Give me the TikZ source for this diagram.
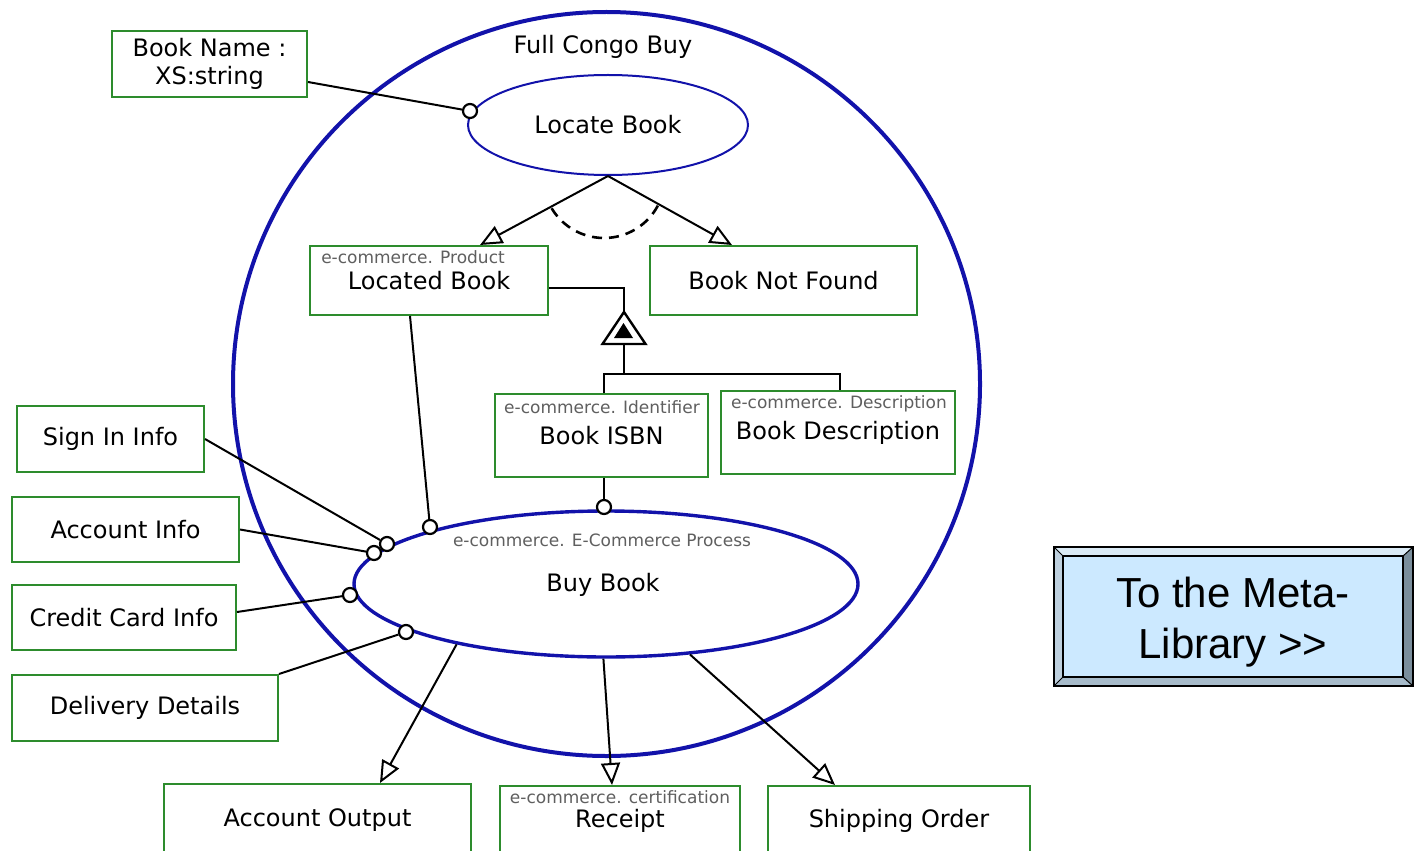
\documentclass[tikz,border=0pt]{standalone}
\usepackage{fontspec}
\setmainfont{DejaVu Sans}
\newfontfamily\arialf{Liberation Sans}
\usetikzlibrary{shapes.geometric,arrows.meta,calc}
\definecolor{navy}{RGB}{18,18,170}
\definecolor{boxgreen}{RGB}{45,140,45}
\definecolor{lbl}{RGB}{95,95,95}
\definecolor{face}{RGB}{204,233,255}
\definecolor{bvtop}{RGB}{218,234,245}
\definecolor{bvleft}{RGB}{190,208,222}
\definecolor{bvright}{RGB}{122,142,156}
\definecolor{bvbot}{RGB}{167,187,202}
\begin{document}
\begin{tikzpicture}[x=0.5pt,y=-0.5pt,
  box/.style={draw=boxgreen, line width=1pt, fill=white, inner sep=0pt, align=center,
    font=\fontsize{12}{14}\selectfont, text=black},
  small/.style={font=\fontsize{8.5}{10}\selectfont, text=lbl, inner sep=0pt},
  port/.style={circle, draw=black, fill=white, line width=1.1pt, minimum size=7pt, inner sep=0pt},
  conn/.style={draw=black, line width=1pt},
  flow/.style={conn, -{Triangle[open, length=11pt, width=9.5pt]}},
  proc/.style={ellipse, draw=navy, fill=white, inner sep=0pt, font=\fontsize{12}{14}\selectfont, text=black}
]
\useasboundingbox (0,0) rectangle (1416,850);

% outer process
\node[ellipse, draw=navy, line width=2pt, minimum width=373.5pt, minimum height=372pt, inner sep=0pt] (full) at (606.5,384) {};
\node[font=\fontsize{12}{14}\selectfont, text=black, inner sep=0pt] (fcb) at (603,47) {Full Congo Buy};

% sub processes
\node[proc, line width=1pt, minimum width=140pt, minimum height=50pt] (loc) at (608,125) {Locate Book};
\node[proc, line width=1.7pt, minimum width=252pt, minimum height=73pt] (buy) at (606,584) {};
\node[font=\fontsize{12}{14}\selectfont, text=black, inner sep=0pt] (buyt) at (603,585) {Buy Book};
\node[small] (buyl) at (602,540) {e-commerce. E-Commerce Process};

% boxes
\node[box, minimum width=97.5pt, minimum height=33pt] (bn) at (209.5,64) {Book Name :\\XS:string};
\node[box, minimum width=119pt, minimum height=34.5pt] (lb) at (429,280.5) {Located Book};
\node[small] (lbl) at (413,257) {e-commerce. Product};
\node[box, minimum width=133.5pt, minimum height=34.5pt] (bnf) at (783.5,280.5) {Book Not Found};
\node[box, minimum width=106.5pt, minimum height=41.5pt] (isbn) at (601.5,435.5) {Book ISBN};
\node[small] (isbnl) at (602,407) {e-commerce. Identifier};
\node[box, minimum width=117pt, minimum height=41.5pt] (bd) at (838,432.5) {Book Description};
\node[small] (bdl) at (839,404) {e-commerce. Description};
\node[box, minimum width=93.5pt, minimum height=33pt] (si) at (110.5,439) {Sign In Info};
\node[box, minimum width=113.5pt, minimum height=32.5pt] (ai) at (125.5,529.5) {Account Info};
\node[box, minimum width=112pt, minimum height=32.5pt] (cc) at (124,617.5) {Credit Card Info};
\node[box, minimum width=133pt, minimum height=33pt] (dd) at (145,708) {Delivery Details};
\node[box, minimum width=153.5pt, minimum height=36pt] (ao) at (317.5,820) {Account Output};
\node[box, minimum width=120pt, minimum height=35pt] (rc) at (620,821) {Receipt};
\node[small] (rcl) at (620,797) {e-commerce. certification};
\node[box, minimum width=131pt, minimum height=35pt] (so) at (899,821) {Shipping Order};

% ports
\node[port] (p0) at (470,111) {};
\node[port] (p1) at (604,507) {};
\node[port] (p2) at (430,527) {};
\node[port] (p3) at (387,544) {};
\node[port] (p4) at (374,553) {};
\node[port] (p5) at (350,595) {};
\node[port] (p6) at (406,632) {};

% connectors to ports
\draw[conn] ([yshift=-9pt]bn.east) -- (p0);
\draw[conn] ([xshift=1.25pt]isbn.south) -- (p1);
\draw[conn] ([xshift=-9.5pt]lb.south) -- (p2);
\draw[conn] (si.east) -- (p3);
\draw[conn] (ai.east) -- (p4);
\draw[conn] ([yshift=2.75pt]cc.east) -- (p5);
\draw[conn] (dd.north east) -- (p6);

% locate outcomes
\draw[flow] (loc.south) -- ([xshift=25.5pt]lb.north);
\draw[flow] (loc.south) -- ([xshift=-25.75pt]bnf.north);
\draw[line width=1.3pt, dash pattern=on 5pt off 3.5pt] plot[domain=28:152, samples=40] ({604+61*cos(\x)},{177+61*sin(\x)});

% generalisation
\coordinate (gtop) at (624,312);
\coordinate (gbase) at (624,344);
\draw[conn] ([yshift=-3.75pt]lb.east) -| (gtop);
\draw[line width=1.2pt, fill=white] (gtop) -- (645.5,344) -- (602.5,344) -- cycle;
\fill[black] (623.5,323) -- (633,338) -- (614,338) -- cycle;
\draw[conn] (gbase) -- ++(0,30) coordinate (gbar);
\draw[conn] ([xshift=1.25pt]isbn.north) |- (gbar) -| ([xshift=1pt]bd.north);

% outputs
\draw[flow] (buy.202) -- ([xshift=31.25pt]ao.north);
\draw[flow] (buy.268) -- ([xshift=-4pt]rc.north);
\draw[flow] (buy.320) -- ([xshift=-32pt]so.north);

% button
\coordinate (oTL) at (1054,547); \coordinate (oTR) at (1413,547);
\coordinate (oBR) at (1413,686); \coordinate (oBL) at (1054,686);
\coordinate (iTL) at (1063,556); \coordinate (iTR) at (1403,556);
\coordinate (iBR) at (1403,677); \coordinate (iBL) at (1063,677);
\fill[bvtop] (oTL) -- (oTR) -- (iTR) -- (iTL) -- cycle;
\fill[bvright] (oTR) -- (oBR) -- (iBR) -- (iTR) -- cycle;
\fill[bvbot] (oBL) -- (oBR) -- (iBR) -- (iBL) -- cycle;
\fill[bvleft] (oTL) -- (oBL) -- (iBL) -- (iTL) -- cycle;
\draw[line width=0.6pt, fill=face] (iTL) rectangle (iBR);
\draw[line width=0.6pt] (oTL) rectangle (oBR);
\draw[line width=0.5pt] (oTL) -- (iTL) (oTR) -- (iTR) (oBL) -- (iBL) (oBR) -- (iBR);
\node[inner sep=0pt, align=center, font=\arialf\fontsize{21}{25.5}\selectfont] (meta) at (1233,622) {To the Meta-\\Library >{}>};
\end{tikzpicture}
\end{document}
